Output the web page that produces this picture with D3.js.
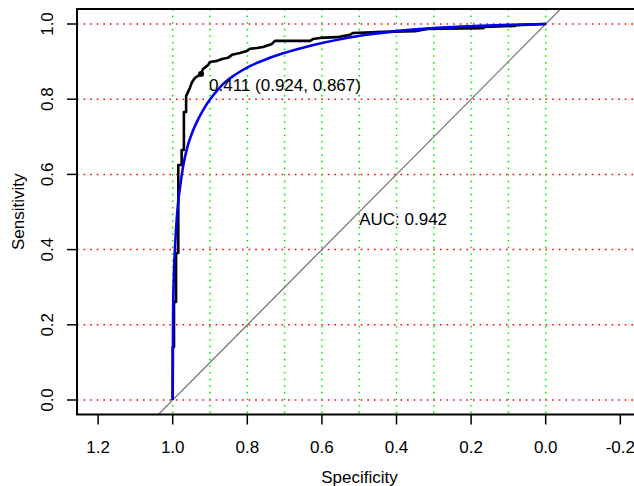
<!DOCTYPE html>
<html><head><meta charset="utf-8">
<script src="https://cdn.jsdelivr.net/npm/d3@7"></script>
<style>
html,body{margin:0;padding:0;background:#fff;}
svg text{font-family:"Liberation Sans",Arial,Helvetica,sans-serif;}
</style></head>
<body><svg id="chart" width="634" height="486"></svg>
<script>
// ---- Data ----
const rocSpec = [1.000,1.000,0.9965,0.9965,0.991,0.991,0.985,0.985,0.976,0.976,0.970,0.970,0.964,0.964,0.959,0.954,0.948,0.940,0.932,0.924,0.919,0.905,0.900,0.881,0.868,0.852,0.841,0.820,0.801,0.793,0.774,0.758,0.734,0.726,0.632,0.624,0.605,0.560,0.525,0.517,0.436,0.350,0.318,0.168,0.163,0.082,0.077,0.000];
const rocSens = [0.000,0.141,0.141,0.261,0.261,0.391,0.391,0.625,0.625,0.665,0.665,0.766,0.766,0.809,0.819,0.830,0.846,0.857,0.862,0.867,0.880,0.891,0.899,0.902,0.907,0.910,0.918,0.923,0.928,0.934,0.936,0.939,0.947,0.955,0.955,0.960,0.963,0.965,0.971,0.976,0.979,0.981,0.987,0.989,0.992,0.995,0.997,1.000];
const smoothSpec = [1.000,0.999,0.997,0.994,0.990,0.985,0.980,0.972,0.960,0.945,0.930,0.915,0.900,0.880,0.865,0.840,0.820,0.793,0.758,0.704,0.651,0.597,0.544,0.490,0.418,0.356,0.265,0.176,0.088,0.000];
const smoothSens = [0.000,0.220,0.330,0.400,0.470,0.530,0.568,0.622,0.675,0.718,0.750,0.777,0.799,0.824,0.840,0.860,0.873,0.888,0.903,0.922,0.937,0.950,0.961,0.970,0.979,0.985,0.991,0.995,0.998,1.000];
const thresh = {value:"0.411", spec:0.924, sens:0.867};
const aucLabel = "AUC: 0.942";
const xTicks = [1.2,1.0,0.8,0.6,0.4,0.2,0.0,-0.2];
const yTicks = [0.0,0.2,0.4,0.6,0.8,1.0];
const xGrid = [1.0,0.9,0.8,0.7,0.6,0.5,0.4,0.3,0.2,0.1,0.0];
const yGrid = [0.0,0.2,0.4,0.6,0.8,1.0];

// ---- Layout ----
const svg = d3.select("#chart");
const box = {left:77, top:9, right:642, bottom:414.5};
const x = d3.scaleLinear().domain([1,0]).range([172.7,545.7]);
const y = d3.scaleLinear().domain([0,1]).range([400,24]);
const FS = 17;

svg.append("defs").append("clipPath").attr("id","clip")
  .append("rect").attr("x",box.left).attr("y",box.top)
  .attr("width",box.right-box.left).attr("height",box.bottom-box.top);

const g = svg.append("g").attr("clip-path","url(#clip)");

// grid
g.selectAll(".hg").data(yGrid).enter().append("line")
  .attr("x1",box.left).attr("x2",box.right)
  .attr("y1",d=>y(d)).attr("y2",d=>y(d))
  .attr("stroke","#ff0000").attr("stroke-width",1.5).attr("stroke-dasharray","1.6,5");
g.selectAll(".vg").data(xGrid).enter().append("line")
  .attr("y1",box.top).attr("y2",box.bottom)
  .attr("x1",d=>x(d)).attr("x2",d=>x(d))
  .attr("stroke","#00ee00").attr("stroke-width",1.5).attr("stroke-dasharray","1.6,5");

// diagonal
g.append("line")
  .attr("x1",x(1.2)).attr("y1",y(-0.2)).attr("x2",x(-0.2)).attr("y2",y(1.2))
  .attr("stroke","#6e6e6e").attr("stroke-width",1.2);

// ROC curve
const rocData = rocSpec.map((s,i)=>[s,rocSens[i]]);
g.append("path").datum(rocData)
  .attr("d",d3.line().x(d=>x(d[0])).y(d=>y(d[1])))
  .attr("fill","none").attr("stroke","#000").attr("stroke-width",2.6)
  .attr("stroke-linejoin","round");

// smooth curve
const smData = smoothSpec.map((s,i)=>[s,smoothSens[i]]);
g.append("path").datum(smData)
  .attr("d",d3.line().x(d=>x(d[0])).y(d=>y(d[1])).curve(d3.curveMonotoneX))
  .attr("fill","none").attr("stroke","#0000ee").attr("stroke-width",2.6);

// threshold point and label
g.append("circle").attr("cx",x(thresh.spec)).attr("cy",y(thresh.sens)).attr("r",3).attr("fill","#000");
svg.append("text").attr("x",x(thresh.spec)+8).attr("y",y(thresh.sens)+17)
  .attr("font-size",FS).text(`${thresh.value} (${thresh.spec.toFixed(3)}, ${thresh.sens.toFixed(3)})`);

// AUC
svg.append("text").attr("x",x(0.5)).attr("y",y(0.5)+12.5)
  .attr("font-size",FS).text(aucLabel);

// box
svg.append("path")
  .attr("d",`M${box.right},${box.top}H${box.left}V${box.bottom}H${box.right}`)
  .attr("fill","none").attr("stroke","#000").attr("stroke-width",2);

// x axis
const xa = svg.append("g");
xa.selectAll("line").data(xTicks).enter().append("line")
  .attr("x1",d=>x(d)).attr("x2",d=>x(d)).attr("y1",box.bottom).attr("y2",box.bottom+10)
  .attr("stroke","#000").attr("stroke-width",1.5);
xa.selectAll("text").data(xTicks).enter().append("text")
  .attr("x",d=>x(d)).attr("y",453).attr("text-anchor","middle").attr("font-size",FS)
  .text(d=>d3.format(".1f")(d).replace("−","-"));

// y axis
const ya = svg.append("g");
ya.selectAll("line").data(yTicks).enter().append("line")
  .attr("x1",box.left-10).attr("x2",box.left).attr("y1",d=>y(d)).attr("y2",d=>y(d))
  .attr("stroke","#000").attr("stroke-width",1.5);
ya.selectAll("text").data(yTicks).enter().append("text")
  .attr("transform",d=>`translate(53,${y(d)}) rotate(-90)`)
  .attr("text-anchor","middle").attr("font-size",FS)
  .text(d=>d3.format(".1f")(d));

// axis titles
svg.append("text").attr("x",(box.left+box.right)/2).attr("y",483)
  .attr("text-anchor","middle").attr("font-size",FS).text("Specificity");
svg.append("text").attr("transform",`translate(24,${(box.top+box.bottom)/2}) rotate(-90)`)
  .attr("text-anchor","middle").attr("font-size",FS).text("Sensitivity");
</script></body></html>
